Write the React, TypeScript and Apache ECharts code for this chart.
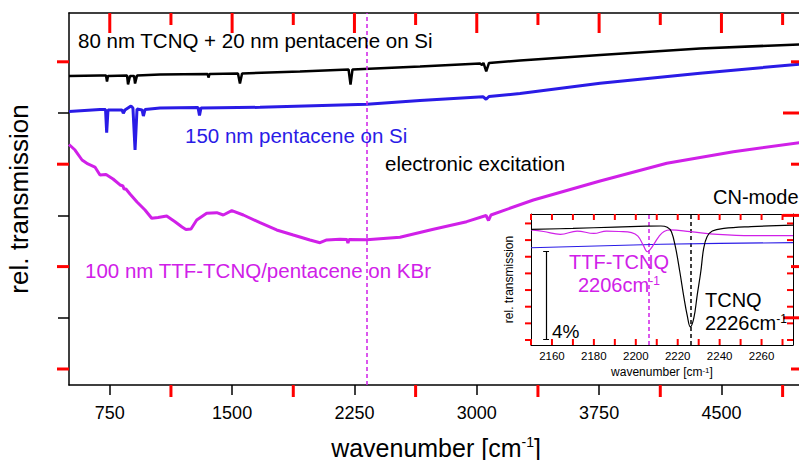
import React, { useEffect, useRef } from "react";
import * as echarts from "echarts";

const FONT = "'Liberation Sans', Arial, Helvetica, sans-serif";
const BLACK = "#000000";
const BLUE = "#2a1be6";
const MAGENTA = "#d020e8";
const TICK_COLOR = "#ff0000";

// main axis ticks (wavenumber cm^-1, arbitrary transmission units)
const xTicksMajor = [750, 1500, 2250, 3000, 3750, 4500];
const xTicksMinor = [1125, 1875, 2625, 3375, 4125, 4875];
const yTicksMajor = [2, 4, 6];
const yTicksMinor = [1, 3, 5, 7];

// 80 nm TCNQ + 20 nm pentacene on Si
const tcnqPentacene: [number, number][] = [
  [500, 6.723], [690, 6.732], [727, 6.732], [733, 6.615], [739, 6.723], [856, 6.732],
  [862, 6.559], [874, 6.723], [899, 6.723], [905, 6.576], [917, 6.732], [1058, 6.752],
  [1350, 6.762], [1355, 6.693], [1362, 6.762], [1536, 6.771], [1548, 6.576], [1561, 6.771],
  [1916, 6.811], [2214, 6.85], [2226, 6.557], [2238, 6.85], [2652, 6.908], [3020, 6.967],
  [3032, 6.938], [3041, 6.977], [3058, 6.811], [3075, 6.977], [3265, 7.025], [3756, 7.133],
  [4369, 7.26], [5000, 7.342],
];

// 150 nm pentacene on Si
const pentaceneSi: [number, number][] = [
  [500, 6.029], [690, 6.068], [724, 6.068], [731, 5.615], [739, 6.059], [825, 6.059],
  [833, 5.994], [843, 6.059], [880, 6.137], [892, 6.098], [905, 5.277], [917, 6.078],
  [948, 6.059], [956, 5.941], [966, 6.068], [1058, 6.098], [1291, 6.107], [1300, 5.951],
  [1309, 6.098], [1671, 6.111], [2327, 6.17], [2652, 6.244], [3038, 6.318], [3057, 6.268],
  [3075, 6.322], [3265, 6.381], [3756, 6.58], [4369, 6.775], [5000, 6.96],
];

// 100 nm TTF-TCNQ/pentacene on KBr
const ttfTcnqKBr: [number, number][] = [
  [500, 5.385], [537, 5.277], [580, 5.082], [616, 5.004], [659, 4.945], [690, 4.789],
  [727, 4.799], [770, 4.711], [813, 4.594], [831, 4.574], [837, 4.516], [849, 4.516],
  [874, 4.418], [917, 4.262], [966, 4.105], [1007, 3.943], [1046, 3.959], [1099, 3.988],
  [1150, 3.877], [1193, 3.773], [1217, 3.725], [1248, 3.734], [1283, 3.91], [1344, 4.041],
  [1406, 4.053], [1446, 4.008], [1498, 4.092], [1569, 4.008], [1671, 3.857], [1773, 3.715],
  [1875, 3.617], [1977, 3.52], [2039, 3.467], [2080, 3.52], [2161, 3.533], [2204, 3.529],
  [2210, 3.461], [2217, 3.529], [2325, 3.523], [2529, 3.572], [2734, 3.729], [2938, 3.877],
  [3057, 3.998], [3072, 3.9], [3087, 4.008], [3347, 4.301], [3756, 4.672], [4165, 5.018],
  [4573, 5.244], [5000, 5.43],
];

const excitationWavenumber = 2327;

// inset: CN-mode region (relative transmission in %)
const insetLabelTicks = [2160, 2180, 2200, 2220, 2240, 2260];
const insetTicks = [2150, 2160, 2170, 2180, 2190, 2200, 2210, 2220, 2230, 2240, 2250, 2260, 2270];
const insetYTicks = [0.227, 0.984, 1.741, 2.498, 3.255, 4.012, 4.769, 5.526];

const insetTCNQ: [number, number][] = [
  [2150, 5.26], [2170, 5.3], [2190, 5.36], [2205, 5.4], [2212, 5.41], [2215, 5.35],
  [2217, 5.15], [2219, 4.41], [2221, 3.33], [2223, 2.14], [2224.5, 1.36], [2226, 0.82],
  [2227.7, 1.23], [2229.3, 2.27], [2231, 3.33], [2232.4, 4.4], [2234, 4.92], [2236.5, 5.18],
  [2242, 5.3], [2255, 5.38], [2275, 5.45],
];
const insetTTF: [number, number][] = [
  [2150, 5.23], [2156, 5.16], [2164, 5.03], [2172, 5.18], [2180, 5.07], [2186, 5.18],
  [2192, 5.16], [2198, 5.11], [2201, 4.95], [2203.5, 4.55], [2205.5, 4.24], [2207, 4.36],
  [2209, 4.64], [2211, 4.93], [2213.5, 5.16], [2216.5, 5.23], [2226, 5.15], [2239, 5.03],
  [2255, 4.97], [2275, 4.97],
];
const insetPentacene: [number, number][] = [
  [2150, 4.42], [2212, 4.58], [2240, 4.62], [2275, 4.65],
];
const ttfMode = 2206;
const tcnqMode = 2226;
const scaleBarX = 2157.2;
const scaleBarCap = 1.4;
const scaleBarFrom = 0.27;
const scaleBarTo = 4.27;

const MAIN_X: [number, number] = [500, 5000];
const MAIN_Y: [number, number] = [0.6875, 7.953];
const INS_X: [number, number] = [2150, 2275];
const INS_Y: [number, number] = [0, 5.955];

const MAIN_GRID = { left: 69, top: 13, width: 734, height: 372 };
const INS_GRID = { left: 531, top: 214, width: 262, height: 131 };

const baseAxis = (o: any) => ({
  type: "value",
  splitLine: { show: false },
  axisLabel: { show: false },
  axisTick: { show: false },
  axisLine: { show: false, onZero: false },
  ...o,
});

export default function App() {
  const ref = useRef<HTMLDivElement>(null);
  useEffect(() => {
    if (!ref.current) return;
    const chart = echarts.init(ref.current, null, { renderer: "svg" });
    const axLine = { show: true, onZero: false, lineStyle: { color: BLACK, width: 1.5 } };
    const insLine = { show: true, onZero: false, lineStyle: { color: BLACK, width: 1 } };
    const mainX = { gridIndex: 0, min: MAIN_X[0], max: MAIN_X[1] };
    const mainY = { gridIndex: 0, min: MAIN_Y[0], max: MAIN_Y[1] };
    const insX = { gridIndex: 1, min: INS_X[0], max: INS_X[1] };
    const insY = { gridIndex: 1, min: INS_Y[0], max: INS_Y[1] };
    const sup = { fontSize: 14, verticalAlign: "top", lineHeight: 14, fontFamily: FONT, color: BLACK };
    const plain = (v: number) => String(v);
    const majorTick = (vals: number[], len: number) => ({
      show: true, customValues: vals, length: len, inside: false, lineStyle: { color: BLACK, width: 1.5 },
    });

    const text = (t: string, x: number, y: number, fill: string, size = 20.5, rich?: any) => ({
      type: "text",
      x,
      y,
      z: 100,
      style: {
        text: t,
        fill,
        fontSize: size,
        fontFamily: FONT,
        align: "left",
        verticalAlign: "middle",
        lineHeight: size,
        rich,
      },
    });
    const supRich = (c: string) => ({ sup: { fontSize: 12, lineHeight: 12, verticalAlign: "top", fill: c, fontFamily: FONT } });
    const markV = (x: number, color: string) => ({
      silent: true, symbol: ["none", "none"], label: { show: false },
      lineStyle: { color, type: [4, 3], width: 1.5 },
      data: [{ xAxis: x }],
    });

    chart.setOption({
      animation: false,
      backgroundColor: "#ffffff",
      grid: [
        { ...MAIN_GRID, containLabel: false, outerBoundsMode: "none" },
        {
          ...INS_GRID, show: true, backgroundColor: "#ffffff",
          borderWidth: 0, containLabel: false, outerBoundsMode: "none",
        },
      ],
      xAxis: [
        baseAxis({
          ...mainX, position: "bottom", axisLine: axLine,
          axisTick: majorTick(xTicksMajor, 10),
          axisLabel: { show: true, customValues: xTicksMajor, formatter: plain, fontSize: 18, color: BLACK, fontFamily: FONT, margin: 19 },
          name: "wavenumber [cm{sup|-1}]", nameLocation: "middle", nameGap: 50,
          nameTextStyle: { fontSize: 25, color: BLACK, fontFamily: FONT, rich: { sup } },
        }),
        baseAxis({ ...mainX, position: "top", axisLine: axLine }),
        baseAxis({
          ...insX, position: "bottom", axisLine: insLine,
          axisLabel: { show: true, customValues: insetLabelTicks, formatter: plain, fontSize: 11.5, color: BLACK, fontFamily: FONT, margin: 5 },
          name: "wavenumber [cm{sup|-1}]", nameLocation: "middle", nameGap: 21,
          nameTextStyle: { fontSize: 12, color: BLACK, fontFamily: FONT, rich: { sup: { fontSize: 8, lineHeight: 8, verticalAlign: "top", fontFamily: FONT, color: BLACK } } },
        }),
        baseAxis({ ...insX, position: "top", axisLine: insLine }),
      ],
      yAxis: [
        baseAxis({
          ...mainY, position: "left", axisLine: axLine, axisTick: majorTick(yTicksMajor, 11),
          name: "rel. transmission", nameLocation: "middle", nameRotate: 90, nameGap: 37,
          nameTextStyle: { fontSize: 26, color: BLACK, fontFamily: FONT },
        }),
        baseAxis({ ...mainY, position: "right", axisLine: axLine }),
        baseAxis({
          ...insY, position: "left", axisLine: insLine,
          name: "rel. transmission", nameLocation: "middle", nameRotate: 90, nameGap: 16,
          nameTextStyle: { fontSize: 12, color: BLACK, fontFamily: FONT },
        }),
        baseAxis({ ...insY, position: "right", axisLine: insLine }),
      ],
      series: [
        {
          type: "line", xAxisIndex: 0, yAxisIndex: 0, data: tcnqPentacene, showSymbol: false,
          symbol: "none", lineStyle: { color: BLACK, width: 2.5 }, z: 3,
        },
        {
          type: "line", xAxisIndex: 0, yAxisIndex: 0, data: pentaceneSi, showSymbol: false,
          symbol: "none", lineStyle: { color: BLUE, width: 3 }, z: 3,
        },
        {
          type: "line", xAxisIndex: 0, yAxisIndex: 0, data: ttfTcnqKBr, showSymbol: false,
          symbol: "none", lineStyle: { color: MAGENTA, width: 3 }, z: 3,
          markLine: markV(excitationWavenumber, MAGENTA),
        },
        {
          type: "line", xAxisIndex: 2, yAxisIndex: 2, data: insetPentacene, showSymbol: false,
          symbol: "none", lineStyle: { color: BLUE, width: 1.2 }, z: 5,
        },
        {
          type: "line", xAxisIndex: 2, yAxisIndex: 2, data: insetTTF, showSymbol: false, smooth: 0.4,
          symbol: "none", lineStyle: { color: MAGENTA, width: 1.2 }, z: 5,
          markLine: markV(ttfMode, MAGENTA),
        },
        {
          type: "line", xAxisIndex: 2, yAxisIndex: 2, data: insetTCNQ, showSymbol: false, smooth: 0.4,
          symbol: "none", lineStyle: { color: BLACK, width: 1.2 }, z: 5,
          markLine: markV(tcnqMode, BLACK),
        },
        {
          type: "lines", coordinateSystem: "cartesian2d", xAxisIndex: 2, yAxisIndex: 2, z: 5,
          lineStyle: { color: BLACK, width: 1.2, opacity: 1 },
          data: [
            { coords: [[scaleBarX, scaleBarFrom], [scaleBarX, scaleBarTo]] },
            { coords: [[scaleBarX - scaleBarCap, scaleBarFrom], [scaleBarX + scaleBarCap, scaleBarFrom]] },
            { coords: [[scaleBarX - scaleBarCap, scaleBarTo], [scaleBarX + scaleBarCap, scaleBarTo]] },
          ],
        },
      ],
    });

    const toPx = (
      seriesIndex: number, pt: [number, number],
      xr: [number, number], yr: [number, number], g: { left: number; top: number; width: number; height: number },
    ): number[] => {
      let p: any = null;
      try {
        p = chart.convertToPixel({ seriesIndex }, pt);
      } catch (e) {
        p = null;
      }
      if (!p || !isFinite(p[0]) || !isFinite(p[1])) {
        p = [
          g.left + ((pt[0] - xr[0]) / (xr[1] - xr[0])) * g.width,
          g.top + g.height - ((pt[1] - yr[0]) / (yr[1] - yr[0])) * g.height,
        ];
      }
      return p;
    };
    const tickEls: any[] = [];
    const addTicks = (
      seriesIndex: number, side: string, vals: number[], len: number, sign: number,
      xr: [number, number], yr: [number, number], g: any, w: number,
    ) => {
      vals.forEach((v) => {
        let p: number[];
        let dx = 0;
        let dy = 0;
        if (side === "top") { p = toPx(seriesIndex, [v, yr[1]], xr, yr, g); dy = sign * len; }
        else if (side === "bottom") { p = toPx(seriesIndex, [v, yr[0]], xr, yr, g); dy = -sign * len; }
        else if (side === "left") { p = toPx(seriesIndex, [xr[0], v], xr, yr, g); dx = sign * len; }
        else { p = toPx(seriesIndex, [xr[1], v], xr, yr, g); dx = -sign * len; }
        tickEls.push({
          type: "line",
          z: 90,
          silent: true,
          shape: { x1: p[0], y1: p[1], x2: p[0] + dx, y2: p[1] + dy },
          style: { stroke: TICK_COLOR, lineWidth: w },
        });
      });
    };
    addTicks(0, "top", xTicksMajor, 20, 1, MAIN_X, MAIN_Y, MAIN_GRID, 3);
    addTicks(0, "top", xTicksMinor, 12, 1, MAIN_X, MAIN_Y, MAIN_GRID, 3);
    addTicks(0, "bottom", xTicksMinor, 12, -1, MAIN_X, MAIN_Y, MAIN_GRID, 3);
    addTicks(0, "left", yTicksMinor, 12, -1, MAIN_X, MAIN_Y, MAIN_GRID, 3);
    addTicks(0, "right", yTicksMajor, 20, 1, MAIN_X, MAIN_Y, MAIN_GRID, 3);
    addTicks(0, "right", yTicksMinor, 12, 1, MAIN_X, MAIN_Y, MAIN_GRID, 3);
    addTicks(3, "top", insetTicks, 6, 1, INS_X, INS_Y, INS_GRID, 2);
    addTicks(3, "bottom", insetTicks, 6, 1, INS_X, INS_Y, INS_GRID, 2);
    addTicks(3, "left", insetYTicks, 6, -1, INS_X, INS_Y, INS_GRID, 2);
    addTicks(3, "right", insetYTicks, 6, 1, INS_X, INS_Y, INS_GRID, 2);

    chart.setOption({
      graphic: [
        text("80 nm TCNQ + 20 nm pentacene on Si", 78, 40, BLACK),
        text("150 nm pentacene on Si", 185, 135, BLUE),
        text("electronic excitation", 385, 163, BLACK),
        text("100 nm TTF-TCNQ/pentacene on KBr", 85, 270, MAGENTA),
        text("CN-mode", 713, 197, BLACK, 20),
        text("TTF-TCNQ", 569, 262, MAGENTA, 20),
        text("2206cm{sup|-1}", 578, 285, MAGENTA, 20, supRich(MAGENTA)),
        text("TCNQ", 705, 300, BLACK, 20),
        text("2226cm{sup|-1}", 705, 323, BLACK, 20, supRich(BLACK)),
        text("4%", 552, 331, BLACK, 19),
        ...tickEls,
      ],
    });
    return () => chart.dispose();
  }, []);
  return (
    <div
      ref={ref}
      style={{ position: "fixed", left: 0, top: 0, width: 799, height: 460, background: "#fff" }}
    />
  );
}
